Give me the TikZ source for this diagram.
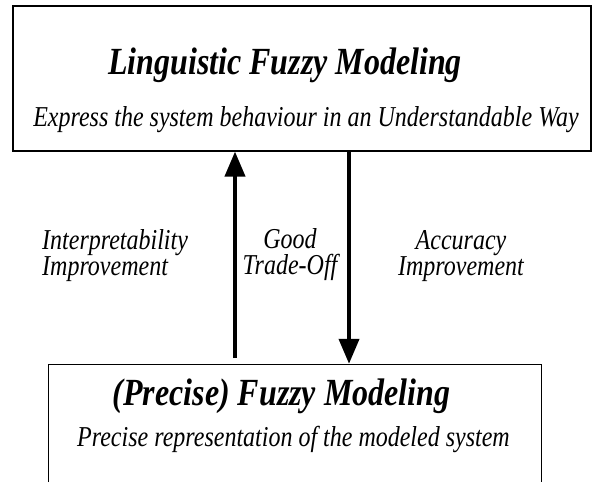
\documentclass[tikz,border=0pt]{standalone}
\usepackage{fontspec}
\usepackage{graphicx}
\setmainfont{Liberation Serif}
\usetikzlibrary{arrows.meta}
\newcommand{\vstretch}[1]{\scalebox{1}[1.2]{#1}}
\begin{document}
\begin{tikzpicture}[x=1pt,y=-1pt,
  box/.style={draw, line width=1.1pt, inner sep=0pt},
  ttl/.style={font=\fontsize{32}{36}\selectfont\bfseries\itshape, inner sep=0pt, anchor=base},
  sub/.style={font=\fontsize{24}{26}\selectfont\itshape, inner sep=0pt, anchor=base},
  lbl/.style={font=\fontsize{24}{26}\selectfont\itshape, inner sep=0pt},
  bigarrow/.style={line width=4pt, -{Triangle[length=25pt,width=20pt]}}
]
\useasboundingbox (0,0) rectangle (593,482);
% top box
\node[box, minimum width=578pt, minimum height=145pt] (top) at (302,78.5) {};
\node[ttl] (t1) at (285,74) {\vstretch{Linguistic Fuzzy Modeling}};
\node[sub] (t2) at (306,126) {\vstretch{Express the system behaviour in an Understandable Way}};
% bottom box (open at the bottom)
\node[inner sep=0pt, minimum width=492pt, minimum height=117pt] (bot) at (295,423.5) {};
\draw[line width=1.1pt] (bot.south west) |- (bot.north east) -- (bot.south east);
\node[ttl] (b1) at (281.5,405) {\vstretch{(Precise) Fuzzy Modeling}};
\node[sub] (b2) at (293.5,446) {\vstretch{Precise representation of the modeled system}};
% arrows
\coordinate (ua) at (235,358);
\coordinate (da) at (349,0);
\draw[bigarrow] (ua) -- (ua |- top.south);
\draw[bigarrow, shorten >=1pt] (da |- top.south) -- (da |- bot.north);
% labels
\node[lbl, align=left, anchor=west] (l1) at (42,256) {\vstretch{Interpretability}\\\vstretch{Improvement}};
\node[lbl, align=center] (l2) at (290,255) {\vstretch{Good}\\\vstretch{Trade-Off}};
\node[lbl, align=center] (l3) at (461,256) {\vstretch{Accuracy}\\\vstretch{Improvement}};
\end{tikzpicture}
\end{document}
